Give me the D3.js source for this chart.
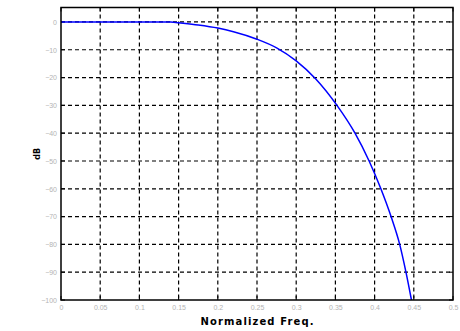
<!DOCTYPE html>
<html>
<head>
<meta charset="utf-8">
<script src="https://cdn.jsdelivr.net/npm/d3@7"></script>
<style>
body{margin:0;background:#fff;}
svg{display:block;font-family:"DejaVu Sans",sans-serif;}
</style>
</head>
<body>
<div id="main"></div>
<script>
// response
var freq=[0,0.05,0.1,0.14,0.15,0.175,0.2,0.22,0.25,0.275,0.3,0.325,0.352,0.375,0.393,0.408,0.421,0.432,0.44,0.447];
var dB=[0,0,0,0,-0.3,-1.1,-2.2,-3.5,-6.2,-9.3,-14,-20.5,-30,-40,-50,-60,-70,-80,-90,-100];
var xTicks=[0,0.05,0.1,0.15,0.2,0.25,0.3,0.35,0.4,0.45,0.5];
var xTickLabels=['0','0.05','0.1','0.15','0.2','0.25','0.3','0.35','0.4','0.45','0.5'];
var yTicks=[0,-10,-20,-30,-40,-50,-60,-70,-80,-90,-100];

var width=460,height=331;
// plot box (window.top is reserved, so pTop etc.)
var pLeft=61,pRight=453,pTop=7.5,pBottom=300;

var svg=d3.select('#main')
  .append('svg')
    .attr('width',width)
    .attr('height',height);

var x=d3.scaleLinear().domain([0,0.5]).range([pLeft,pRight]);
var y=d3.scaleLinear().domain([-100,5.2]).range([pBottom,pTop]);

// dashed grid
var grid=svg.append('g').attr('class','grid');
grid.selectAll('.vg')
    .data(xTicks.slice(1,-1))
  .enter().append('line')
    .attr('x1',function(d){return x(d)})
    .attr('x2',function(d){return x(d)})
    .attr('y1',pTop)
    .attr('y2',pBottom)
    .attr('stroke','#000')
    .attr('stroke-width',1.2)
    .attr('stroke-dasharray','4,3');
grid.selectAll('.hg')
    .data(yTicks.slice(0,-1))
  .enter().append('line')
    .attr('x1',pLeft)
    .attr('x2',pRight)
    .attr('y1',function(d){return y(d)})
    .attr('y2',function(d){return y(d)})
    .attr('stroke','#000')
    .attr('stroke-width',1.2)
    .attr('stroke-dasharray','4,3');

// axes (labels only, frame drawn below)
svg.append('g')
    .attr('transform','translate(0,'+pBottom+')')
    .call(d3.axisBottom(x).tickValues(xTicks).tickSize(0).tickPadding(5)
      .tickFormat(function(d,i){return xTickLabels[i]}));
svg.append('g')
    .attr('transform','translate('+pLeft+',0)')
    .call(d3.axisLeft(y).tickValues(yTicks).tickSize(0).tickPadding(4));
svg.selectAll('.domain').remove();
svg.selectAll('.tick text')
    .attr('fill','#b4b4b4')
    .style('font-size','7px');

// inner ticks on all four sides
var tl=4;
xTicks.forEach(function(d){
  svg.append('line').attr('x1',x(d)).attr('x2',x(d)).attr('y1',pBottom).attr('y2',pBottom-tl).attr('stroke','#000');
  svg.append('line').attr('x1',x(d)).attr('x2',x(d)).attr('y1',pTop).attr('y2',pTop+tl).attr('stroke','#000');
});
yTicks.forEach(function(d){
  svg.append('line').attr('x1',pLeft).attr('x2',pLeft+tl).attr('y1',y(d)).attr('y2',y(d)).attr('stroke','#000');
  svg.append('line').attr('x1',pRight).attr('x2',pRight-tl).attr('y1',y(d)).attr('y2',y(d)).attr('stroke','#000');
});

// response curve
var line=d3.line()
    .x(function(d,i){return x(freq[i])})
    .y(function(d){return y(d)})
    .curve(d3.curveMonotoneX);
svg.append('path')
    .datum(dB)
    .attr('d',line)
    .attr('fill','none')
    .attr('stroke','#0000ff')
    .attr('stroke-width',1.5);

// frame
svg.append('rect')
    .attr('x',pLeft)
    .attr('y',pTop)
    .attr('width',pRight-pLeft)
    .attr('height',pBottom-pTop)
    .attr('fill','none')
    .attr('stroke','#000')
    .attr('stroke-width',1.5);

// axis titles
svg.append('text')
    .attr('x',257)
    .attr('y',325)
    .attr('text-anchor','middle')
    .attr('textLength',113)
    .style('font-size','10px')
    .style('font-weight','bold')
    .text('Normalized Freq.');
svg.append('text')
    .attr('transform','translate(40,'+((pTop+pBottom)/2)+') rotate(-90)')
    .attr('text-anchor','middle')
    .style('font-size','8px')
    .style('font-weight','bold')
    .text('dB');
</script>
</body>
</html>
